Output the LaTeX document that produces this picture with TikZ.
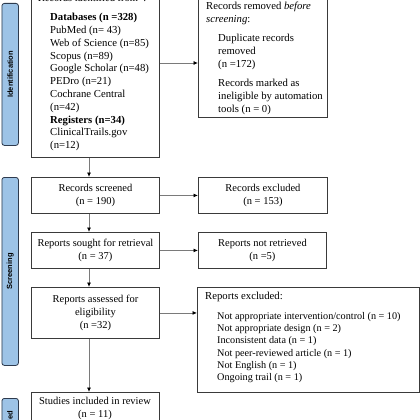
\documentclass[tikz,border=0pt]{standalone}
\usepackage{fontspec}
\setmainfont{Liberation Serif}
\setsansfont{Liberation Sans}
\usetikzlibrary{arrows.meta}
\definecolor{boxline}{HTML}{3A3A3A}
\definecolor{barfill}{HTML}{9DC3E6}
\definecolor{barline}{HTML}{2E3B4E}
\definecolor{arrline}{HTML}{7A7A7A}
\begin{document}
\begin{tikzpicture}[x=1pt,y=-1pt,
  box/.style={draw=boxline, line width=0.9pt, anchor=north west, inner sep=0pt, fill=white},
  ctext/.style={font=\fontsize{10.5}{13}\selectfont, align=center, inner sep=0pt},
  ltext/.style={font=\fontsize{10.7}{12.8}\selectfont, align=left, inner sep=0pt, anchor=north west},
  stext/.style={font=\fontsize{10.2}{12.3}\selectfont, align=left, inner sep=0pt, anchor=north west},
  bar/.style={draw=barline, fill=barfill, line width=0.8pt, rounded corners=2.5pt, anchor=north west, inner sep=0pt, minimum width=16.5pt},
  barlabel/.style={font=\sffamily\bfseries\fontsize{7.5}{8}\selectfont, rotate=90, inner sep=0pt},
  arr/.style={draw=arrline, line width=0.8pt, -{Latex[length=4.5pt,width=4pt,color=black]}}
]
\useasboundingbox (0,0) rectangle (420,420);
\clip (0,0) rectangle (420,420);
\fill[white] (0,0) rectangle (420,420);

% side bars
\node[bar, minimum height=142pt] (barI) at (1.5,3) {};
\node[barlabel] (labI) at (barI.center) {Identification};
\node[bar, minimum height=188pt] (barS) at (1.5,177) {};
\node[barlabel] (labS) at (barS.center) {Screening};
\node[bar, minimum height=60pt] (barN) at (1.5,398) {};
\node[barlabel, anchor=east] (labN) at (10,411) {Included};

% left column boxes
\node[box, minimum width=128pt, minimum height=170pt] (b1) at (31,-13) {};
\node[ctext] (t1) at (92,-2) {Records identified from*:};
\node[ltext] (t1b) at (50,13) {\textbf{Databases (n =328)}\\PubMed (n= 43)\\Web of Science (n=85)\\Scopus (n=89)\\Google Scholar (n=48)\\PEDro (n=21)\\Cochrane Central\\(n=42)\\\textbf{Registers (n=34)}\\ClinicalTrails.gov\\(n=12)};

\node[box, minimum width=128pt, minimum height=36pt] (b2) at (31,177) {};
\node[ctext] (t2) at (b2.center) {Records screened\\(n = 190)};

\node[box, minimum width=128pt, minimum height=36pt] (b3) at (31,232) {};
\node[ctext] (t3) at (b3.center) {Reports sought for retrieval\\(n = 37)};

\node[box, minimum width=128pt, minimum height=51pt] (b4) at (31,287) {};
\node[ctext] (t4) at (b4.center) {Reports assessed for\\eligibility\\(n =32)};

\node[box, minimum width=128pt, minimum height=40pt] (b5) at (31,392) {};
\node[ctext, anchor=north] (t5) at (95,397) {Studies included in review\\(n = 11)};

% right column boxes
\node[box, minimum width=129pt, minimum height=122pt] (r1) at (198,-5) {};
\node[ltext] (tr1) at (206,2) {Records removed \textit{before}\\\textit{screening}:};
\node[ltext] (tr1b) at (218,34) {Duplicate records\\removed\\(n =172)};
\node[ltext] (tr1c) at (218,79) {Records marked as\\ineligible by automation\\tools (n = 0)};

\node[box, minimum width=129pt, minimum height=36pt] (r2) at (198,177) {};
\node[ctext] (tr2) at (r2.center) {Records excluded\\(n = 153)};

\node[box, minimum width=128pt, minimum height=36pt] (r3) at (198,232) {};
\node[ctext] (tr3) at (r3.center) {Reports not retrieved\\(n =5)};

\node[box, minimum width=222pt, minimum height=105pt] (r4) at (197,287) {};
\node[ltext] (tr4) at (205,292) {Reports excluded:};
\node[stext] (tr4b) at (217,312) {Not appropriate intervention/control (n = 10)\\Not appropriate design (n = 2)\\Inconsistent data (n = 1)\\Not peer-reviewed article (n = 1)\\Not English (n = 1)\\Ongoing trail (n = 1)};

% connectors
\coordinate (col) at (89,0);
\coordinate (y1) at (0,63);
\draw[arr] (b1.south -| col) -- (b2.north -| col);
\draw[arr] (b2.south -| col) -- (b3.north -| col);
\draw[arr] (b3.south -| col) -- (b4.north -| col);
\draw[arr] (b4.south -| col) -- (b5.north -| col);
\draw[arr] (b1.east |- y1) -- (r1.west |- y1);
\draw[arr] (b2.east) -- (r2.west);
\draw[arr] (b3.east) -- (r3.west);
\draw[arr] (b4.east) -- (b4.east -| r4.west);
\end{tikzpicture}
\end{document}
